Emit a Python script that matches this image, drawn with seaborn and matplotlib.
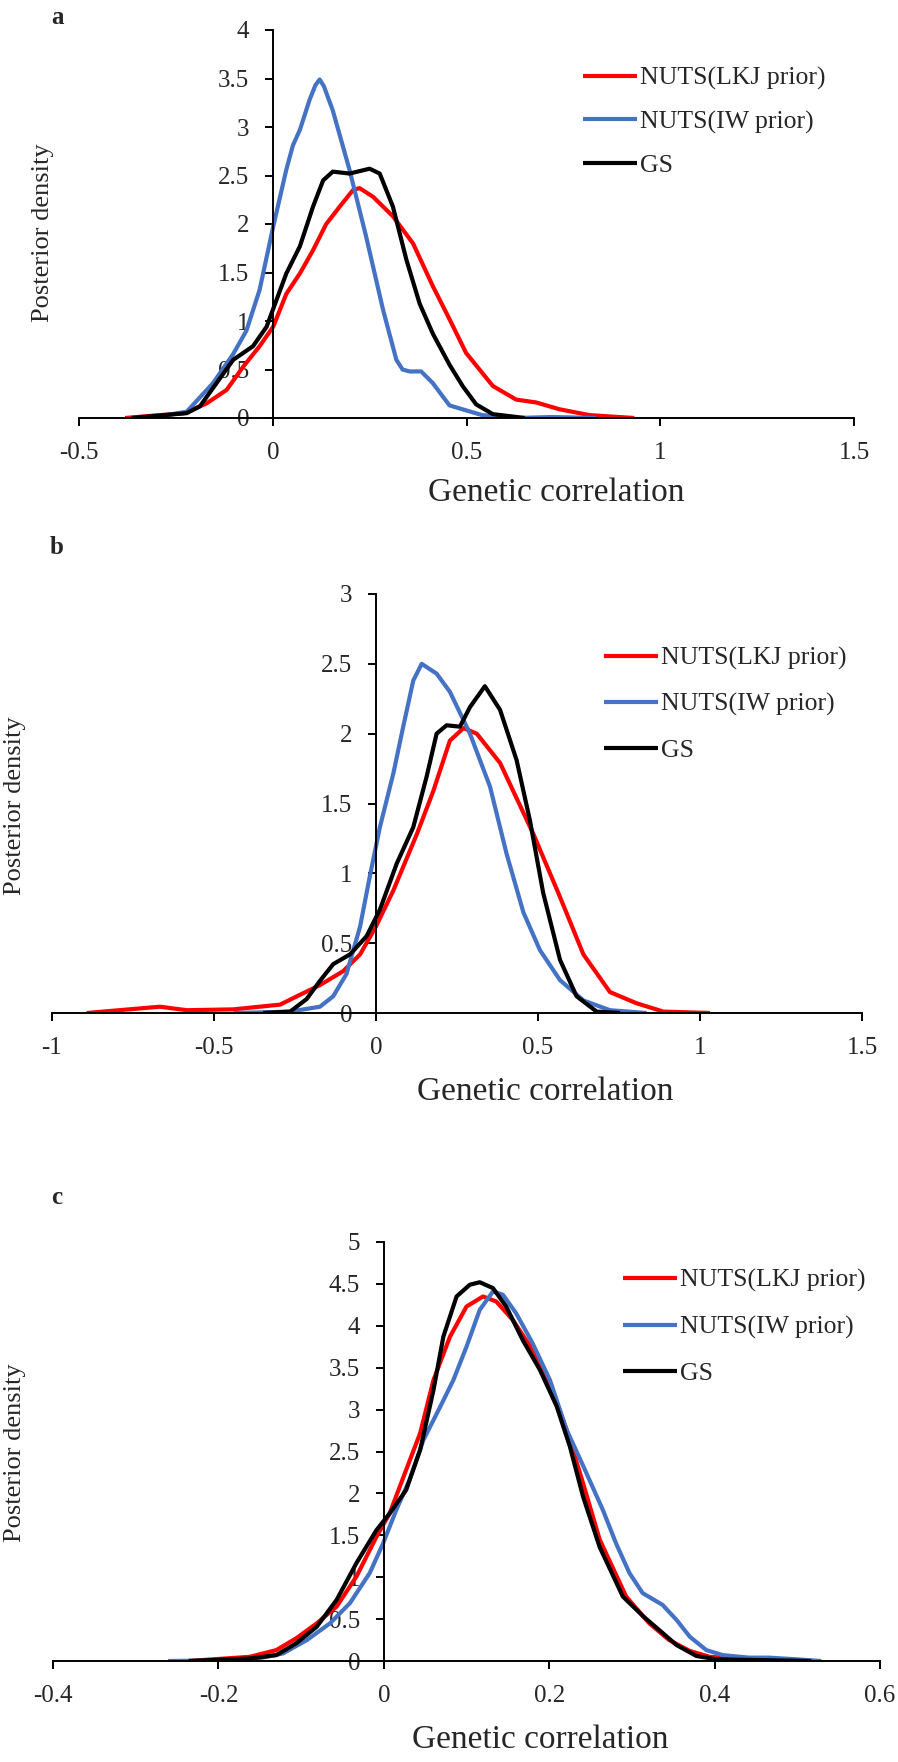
import matplotlib
matplotlib.use("Agg")
import matplotlib.pyplot as plt
from matplotlib.ticker import FuncFormatter
import seaborn as sns

# ---- panel a: curves ----
a_lkj_x = [-0.381, -0.229, -0.171, -0.119, -0.076, -0.034, 0.001, 0.035, 0.070, 0.104, 0.138,
           0.173, 0.207, 0.224, 0.259, 0.310, 0.362, 0.413, 0.456, 0.499, 0.568, 0.628, 0.680,
           0.740, 0.817, 0.933]
a_lkj_y = [0.0, 0.05, 0.15, 0.29, 0.53, 0.74, 0.94, 1.28, 1.49, 1.73, 2.0,
           2.18, 2.35, 2.37, 2.28, 2.08, 1.80, 1.36, 1.02, 0.67, 0.33, 0.19, 0.16,
           0.09, 0.03, 0.0]
a_iw_x = [-0.317, -0.222, -0.154, -0.102, -0.068, -0.034, 0.001, 0.035, 0.052, 0.070, 0.095,
          0.110, 0.121, 0.132, 0.155, 0.198, 0.241, 0.285, 0.319, 0.335, 0.353, 0.383, 0.413,
          0.456, 0.54, 0.628, 0.72, 0.834]
a_iw_y = [0.0, 0.065, 0.36, 0.66, 0.90, 1.32, 1.97, 2.56, 2.81, 2.97, 3.28,
          3.43, 3.49, 3.42, 3.17, 2.56, 1.87, 1.11, 0.60, 0.50, 0.48, 0.48, 0.36,
          0.13, 0.03, 0.0, 0.01, 0.0]
a_gs_x = [-0.364, -0.222, -0.188, -0.145, -0.102, -0.051, -0.016, 0.009, 0.035, 0.070, 0.104,
          0.130, 0.155, 0.198, 0.250, 0.276, 0.310, 0.345, 0.379, 0.413, 0.456, 0.490, 0.525,
          0.568, 0.650]
a_gs_y = [0.0, 0.05, 0.12, 0.36, 0.60, 0.74, 0.94, 1.21, 1.49, 1.77, 2.18,
          2.45, 2.54, 2.52, 2.57, 2.52, 2.18, 1.63, 1.18, 0.87, 0.55, 0.33, 0.14,
          0.04, 0.0]

# ---- panel b ----
b_lkj_x = [-0.893, -0.667, -0.584, -0.44, -0.296, -0.235, -0.173, -0.101, -0.049, 0.0, 0.054,
           0.126, 0.177, 0.228, 0.27, 0.311, 0.383, 0.486, 0.568, 0.64, 0.722, 0.804, 0.887, 1.031]
b_lkj_y = [0.0, 0.045, 0.02, 0.026, 0.06, 0.13, 0.2, 0.30, 0.42, 0.62, 0.88,
           1.28, 1.59, 1.95, 2.04, 2.00, 1.79, 1.28, 0.83, 0.42, 0.15, 0.07, 0.01, 0.0]
b_iw_x = [-0.44, -0.265, -0.173, -0.132, -0.091, -0.049, -0.019, 0.012, 0.054, 0.084, 0.115,
          0.141, 0.187, 0.228, 0.29, 0.352, 0.403, 0.455, 0.506, 0.568, 0.64, 0.722, 0.835]
b_iw_y = [0.0, 0.01, 0.045, 0.12, 0.28, 0.62, 0.98, 1.33, 1.72, 2.05, 2.38,
          2.50, 2.43, 2.30, 2.0, 1.62, 1.14, 0.72, 0.45, 0.235, 0.09, 0.02, 0.0]
b_gs_x = [-0.348, -0.265, -0.214, -0.173, -0.132, -0.080, -0.029, 0.012, 0.064, 0.115, 0.156,
          0.187, 0.218, 0.259, 0.29, 0.336, 0.383, 0.434, 0.475, 0.516, 0.568, 0.619, 0.681, 0.753]
b_gs_y = [0.0, 0.01, 0.1, 0.23, 0.35, 0.42, 0.55, 0.74, 1.07, 1.33, 1.69,
          2.00, 2.06, 2.05, 2.19, 2.34, 2.17, 1.81, 1.38, 0.86, 0.38, 0.12, 0.01, 0.0]

# ---- panel c ----
c_lkj_x = [-0.236, -0.162, -0.130, -0.106, -0.081, -0.057, -0.033, -0.009, 0.007, 0.027, 0.044,
           0.060, 0.080, 0.100, 0.120, 0.136, 0.156, 0.180, 0.201, 0.221, 0.241, 0.261, 0.293,
           0.321, 0.345, 0.370, 0.394, 0.442, 0.483, 0.51]
c_lkj_y = [0.0, 0.05, 0.13, 0.27, 0.45, 0.65, 1.01, 1.48, 1.76, 2.28, 2.72,
           3.35, 3.87, 4.23, 4.35, 4.29, 4.07, 3.71, 3.31, 2.76, 2.12, 1.45, 0.77,
           0.45, 0.25, 0.12, 0.05, 0.02, 0.01, 0.0]
c_iw_x = [-0.261, -0.162, -0.122, -0.093, -0.065, -0.041, -0.017, -0.001, 0.015, 0.031, 0.048,
          0.068, 0.084, 0.100, 0.116, 0.132, 0.144, 0.160, 0.180, 0.201, 0.221, 0.241, 0.265,
          0.281, 0.297, 0.313, 0.337, 0.354, 0.370, 0.390, 0.410, 0.442, 0.466, 0.499, 0.529]
c_iw_y = [0.0, 0.01, 0.09, 0.25, 0.45, 0.69, 1.05, 1.40, 1.80, 2.16, 2.64,
          3.03, 3.35, 3.75, 4.19, 4.41, 4.37, 4.15, 3.79, 3.35, 2.76, 2.33, 1.80,
          1.40, 1.05, 0.81, 0.67, 0.49, 0.29, 0.13, 0.07, 0.04, 0.04, 0.02, 0.0]
c_gs_x = [-0.236, -0.162, -0.130, -0.106, -0.081, -0.057, -0.033, -0.009, 0.007, 0.027, 0.044,
          0.060, 0.072, 0.088, 0.104, 0.116, 0.132, 0.148, 0.168, 0.189, 0.209, 0.225, 0.241,
          0.261, 0.289, 0.314, 0.333, 0.354, 0.378, 0.402, 0.517]
c_gs_y = [0.0, 0.03, 0.07, 0.21, 0.41, 0.73, 1.17, 1.56, 1.76, 2.04, 2.52,
          3.23, 3.87, 4.35, 4.49, 4.52, 4.45, 4.23, 3.83, 3.47, 3.04, 2.56, 1.96,
          1.36, 0.77, 0.53, 0.37, 0.19, 0.06, 0.02, 0.0]

series_labels = ["NUTS(LKJ prior)", "NUTS(IW prior)", "GS"]
series_colors = ["#FF0000", "#4472C4", "#000000"]

a_xticks = [-0.5, 0, 0.5, 1, 1.5]
a_yticks = [0, 0.5, 1, 1.5, 2, 2.5, 3, 3.5, 4]
b_xticks = [-1, -0.5, 0, 0.5, 1, 1.5]
b_yticks = [0, 0.5, 1, 1.5, 2, 2.5, 3]
c_xticks = [-0.4, -0.2, 0, 0.2, 0.4, 0.6]
c_yticks = [0, 0.5, 1, 1.5, 2, 2.5, 3, 3.5, 4, 4.5, 5]

sns.set_theme(style="white")
plt.rcParams["font.family"] = ["Liberation Serif", "DejaVu Serif"]

W, H = 898, 1762
fig = plt.figure(figsize=(W / 100, H / 100), dpi=100)
fmt = FuncFormatter(lambda v, p: f"{v:g}")


def px_axes(left, top, right, bottom):
    return fig.add_axes([left / W, 1 - bottom / H, (right - left) / W, (bottom - top) / H])


def draw_panel(ax, curves, xticks, yticks, letter, letter_xy, ylab_xy, xlab_xy, leg_xy, spacing):
    for (xs, ys), lab, col in zip(curves, series_labels, series_colors):
        sns.lineplot(x=xs, y=ys, ax=ax, color=col, label=lab, linewidth=3.0,
                     sort=False, estimator=None, solid_capstyle="butt",
                     solid_joinstyle="round")
    ax.set_xlim(xticks[0], xticks[-1])
    ax.set_ylim(yticks[0], yticks[-1])
    ax.set_xticks(xticks)
    ax.set_yticks(yticks)
    ax.xaxis.set_major_formatter(fmt)
    ax.yaxis.set_major_formatter(fmt)
    ax.spines["top"].set_visible(False)
    ax.spines["right"].set_visible(False)
    ax.spines["left"].set_position(("data", 0))
    for s in ("left", "bottom"):
        ax.spines[s].set_color("black")
        ax.spines[s].set_linewidth(1.4)
    ax.tick_params(axis="both", direction="out", length=6, width=1.4, color="black",
                   labelsize=18, pad=11, left=True, bottom=True)
    ax.set_xlabel("Genetic correlation", fontsize=24)
    ax.set_ylabel("Posterior density", fontsize=19)
    ax.xaxis.set_label_coords(xlab_xy[0] / W, 1 - xlab_xy[1] / H, transform=fig.transFigure)
    ax.yaxis.set_label_coords(ylab_xy[0] / W, 1 - ylab_xy[1] / H, transform=fig.transFigure)
    ax.xaxis.label.set_va("center")
    ax.yaxis.label.set_va("center")
    fig.text(letter_xy[0] / W, 1 - letter_xy[1] / H, letter, fontsize=18, fontweight="bold",
             ha="center", va="center")
    leg = ax.legend(loc="upper left", bbox_to_anchor=(leg_xy[0] / W, 1 - leg_xy[1] / H),
                    bbox_transform=fig.transFigure, frameon=False, borderpad=0,
                    borderaxespad=0, handlelength=2.1, handletextpad=0.12,
                    labelspacing=spacing, fontsize=18.5)
    for line in leg.get_lines():
        line.set_linewidth(3.0)


ax_a = px_axes(79, 30, 854, 418)
draw_panel(ax_a, [(a_lkj_x, a_lkj_y), (a_iw_x, a_iw_y), (a_gs_x, a_gs_y)],
           a_xticks, a_yticks, "a", (57, 17), (43, 233), (556, 493), (583, 67), 0.78)

ax_b = px_axes(52, 594, 862, 1013)
draw_panel(ax_b, [(b_lkj_x, b_lkj_y), (b_iw_x, b_iw_y), (b_gs_x, b_gs_y)],
           b_xticks, b_yticks, "b", (57, 547), (15, 806), (545, 1092), (604, 647), 0.88)

ax_c = px_axes(53, 1242, 880, 1661)
draw_panel(ax_c, [(c_lkj_x, c_lkj_y), (c_iw_x, c_iw_y), (c_gs_x, c_gs_y)],
           c_xticks, c_yticks, "c", (57, 1198), (15, 1453), (540, 1740), (623, 1269), 0.9)

fig.savefig("out.png", dpi=100)
